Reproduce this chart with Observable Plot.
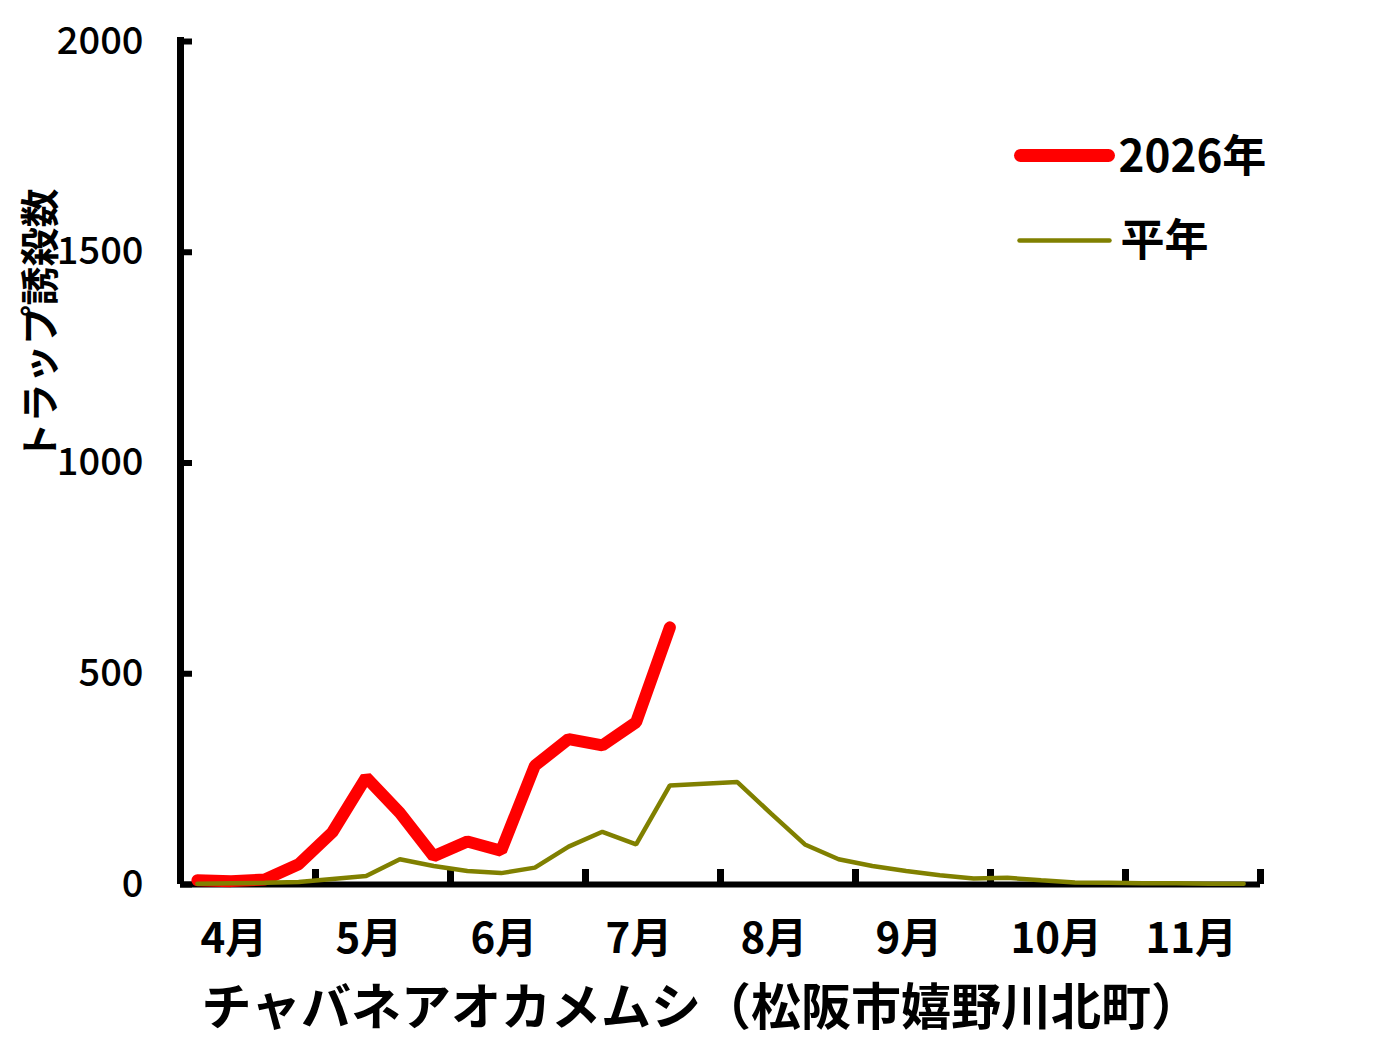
<!DOCTYPE html>
<html>
<head>
<meta charset="utf-8">
<script src="https://cdn.jsdelivr.net/npm/d3@7"></script>
<script src="https://cdn.jsdelivr.net/npm/@observablehq/plot@0.6"></script>
<style>
  html, body { margin: 0; padding: 0; background: #fff; }
</style>
</head>
<body>
<div id="chart"></div>
<script>
// ---- data ----
const months = ["4月", "5月", "6月", "7月", "8月", "9月", "10月", "11月"];
const pointsPerMonth = 4;
const series2026 = [10, 8, 12, 48, 124, 254, 170, 67, 102, 80, 282, 345, 330, 385, 610];
const seriesNormal = [2, 3, 4, 6, 13, 20, 60, 44, 32, 27, 40, 90, 125, 95, 235, 239,
                      243, 168, 95, 60, 44, 32, 22, 14, 16, 10, 5, 4, 3, 3, 2, 2];
const yTicks = [0, 500, 1000, 1500, 2000];
const seriesNames = ["2026年", "平年"];
const yLabel = "トラップ誘殺数";
const captionText = "チャバネアオカメムシ（松阪市嬉野川北町）";

// ---- derived tables ----
const rows2026 = series2026.map((v, i) => ({i, v}));
const rowsNormal = seriesNormal.map((v, i) => ({i, v}));
const nPoints = months.length * pointsPerMonth;
const monthStarts = months.map((m, k) => k * pointsPerMonth - 0.5);
const monthRows = months.map((m, k) => ({label: m, x: monthStarts[k]}));

const RED = "#ff0000";
const OLIVE = "#808000";
const FONT = "'Noto Sans CJK JP', 'Noto Sans', sans-serif";

const lineShape = {
  draw(context, l) { context.moveTo(0, 0); context.lineTo(0, -l); }
};

const chart = Plot.plot({
  width: 1378,
  height: 1064,
  marginLeft: 180,
  marginRight: 118,
  marginTop: 41,
  marginBottom: 180,
  style: {fontFamily: FONT, background: "#fff", color: "#000"},
  x: {type: "linear", domain: [-0.5, nPoints - 0.5], axis: null, label: null},
  y: {type: "linear", domain: [0, 2000], axis: null, label: null},
  marks: [
    // axis lines
    Plot.ruleX([-0.5], {stroke: "#000", strokeWidth: 7, insetTop: -4}),
    Plot.ruleY([0], {stroke: "#000", strokeWidth: 6}),
    // y ticks (inside, to the right)
    Plot.axisY({ticks: yTicks, tickSize: 12, dx: 12, text: null, stroke: "#000", strokeWidth: 6}),
    // y tick labels
    Plot.axisY({ticks: yTicks, tickSize: 0, tickPadding: 37, tickFormat: "d",
                fontSize: 38, fontWeight: 500, fill: "#000", label: null}),
    // x ticks (inside, upward) at month boundaries
    Plot.axisX({ticks: [...monthStarts.slice(1), nPoints - 0.5], tickSize: 15, dy: -15,
                text: null, stroke: "#000", strokeWidth: 7}),
    // month labels
    Plot.text(monthRows, {x: "x", y: () => 0, text: "label", textAnchor: "start", lineAnchor: "middle",
                          dx: 20, dy: 55, fontSize: 42, fontWeight: "bold", fill: "#000"}),
    // series
    Plot.line(rows2026, {x: "i", y: "v", stroke: RED, strokeWidth: 12,
                         strokeLinecap: "round", strokeLinejoin: "miter"}),
    Plot.line(rowsNormal, {x: "i", y: "v", stroke: OLIVE, strokeWidth: 4.5,
                           strokeLinecap: "round", strokeLinejoin: "miter"}),
    // y label
    Plot.text([yLabel], {frameAnchor: "left", textAnchor: "middle", lineAnchor: "middle",
                         dx: -139, dy: -138, rotate: -90,
                         fontSize: 39, fontWeight: "bold", fill: "#000"}),
    // caption
    Plot.text([captionText], {frameAnchor: "bottom-left", lineAnchor: "middle", dx: 21, dy: 124,
                              textAnchor: "start", fontSize: 50, fontWeight: "bold", fill: "#000"}),
    // legend
    Plot.vector([seriesNames[0]], {frameAnchor: "top-left", dx: 840, dy: 114, rotate: 90,
                                   length: 88, anchor: "start", shape: lineShape,
                                   stroke: RED, strokeWidth: 13, strokeLinecap: "round"}),
    Plot.text([seriesNames[0]], {frameAnchor: "top-left", lineAnchor: "middle", dx: 938, dy: 116,
                                 textAnchor: "start", fontSize: 44, fontWeight: "bold", fill: "#000"}),
    Plot.vector([seriesNames[1]], {frameAnchor: "top-left", dx: 839, dy: 199, rotate: 90,
                                   length: 90, anchor: "start", shape: lineShape,
                                   stroke: OLIVE, strokeWidth: 4.5, strokeLinecap: "round"}),
    Plot.text([seriesNames[1]], {frameAnchor: "top-left", lineAnchor: "middle", dx: 940, dy: 200,
                                 textAnchor: "start", fontSize: 44, fontWeight: "bold", fill: "#000"})
  ]
});

document.getElementById("chart").appendChild(chart);
</script>
</body>
</html>
